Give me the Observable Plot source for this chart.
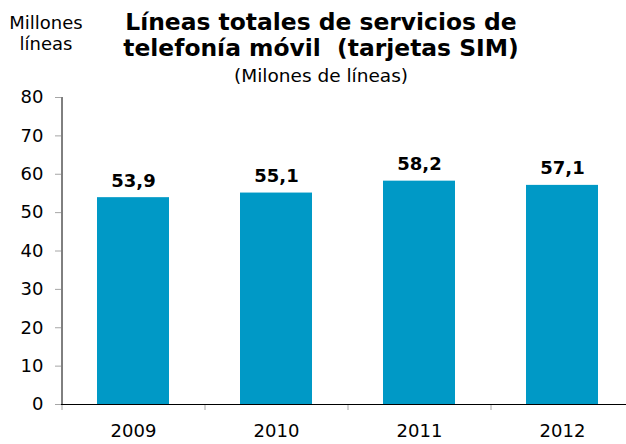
<!DOCTYPE html>
<html>
<head>
<meta charset="utf-8">
<script src="https://cdn.jsdelivr.net/npm/d3@7"></script>
<script src="https://cdn.jsdelivr.net/npm/@observablehq/plot@0.6"></script>
<style>
  html, body { margin: 0; padding: 0; background: #fff; overflow: hidden; width: 626px; height: 444px; }
  #wrap { position: relative; width: 626px; height: 444px; overflow: hidden; font-family: "DejaVu Sans", sans-serif; color: #000; }
  #chart { position: absolute; left: 0; top: 0; width: 640px; height: 444px; }
  #chart svg { max-width: none !important; }
  .t { position: absolute; white-space: nowrap; text-align: center; }
  .title { left: 0; width: 642px; font-size: 23.4px; line-height: 25.5px; font-weight: bold; }
  #title1 { top: 10.2px; }
  #title2 { top: 35.7px; }
  #sub { left: 0; width: 642px; top: 65.6px; font-size: 18.5px; line-height: 20px; }
  #unit { left: 0; width: 92px; top: 12.3px; font-size: 18px; line-height: 21px; }
</style>
</head>
<body>
<div id="wrap">
  <div id="chart"></div>
  <div class="t" id="unit">Millones<br>líneas</div>
  <div class="t title" id="title1">Líneas totales de servicios de</div>
  <div class="t title" id="title2">telefonía móvil&nbsp; (tarjetas SIM)</div>
  <div class="t" id="sub">(Milones de líneas)</div>
</div>
<script>
const years = ["2009", "2010", "2011", "2012"];
const lines = [53.9, 55.1, 58.2, 57.1];
const yTicks = [0, 10, 20, 30, 40, 50, 60, 70, 80];

const data = years.map((y, i) => ({year: y, value: lines[i]}));
const fmt = v => v.toFixed(1).replace(".", ",");
const barColor = "#0099c6";
const halfStep = 71.5;

const chart = Plot.plot({
  width: 640,
  height: 444,
  marginLeft: 61,
  marginRight: 7,
  marginTop: 97,
  marginBottom: 40,
  style: {fontFamily: "DejaVu Sans, sans-serif", fontSize: "18px", color: "#000", background: "transparent", maxWidth: "none"},
  x: {domain: years, paddingInner: 0.5, paddingOuter: 0.25, label: null},
  y: {domain: [0, 80], label: null},
  marks: [
    Plot.barY(data, {x: "year", y: "value", fill: barColor}),
    Plot.text(data, {x: "year", y: "value", text: d => fmt(d.value), lineAnchor: "bottom", dy: -11, fontWeight: "bold", fontSize: 18, fill: "#000"}),
    Plot.axisY({ticks: yTicks, tickSize: 6, tickPadding: 12, stroke: "#a6a6a6", fill: "#000", tickFormat: d => String(d), label: null}),
    Plot.axisX({tickSize: 6, dx: -halfStep, tickFormat: () => "", stroke: "#a6a6a6", label: null}),
    Plot.axisX({tickSize: 0, tickPadding: 20, fill: "#000", label: null}),
    Plot.ruleX([years[0]], {dx: -halfStep, stroke: "#000", strokeWidth: 1}),
    Plot.ruleY([0], {stroke: "#000", strokeWidth: 1})
  ]
});
document.getElementById("chart").appendChild(chart);
</script>
</body>
</html>
